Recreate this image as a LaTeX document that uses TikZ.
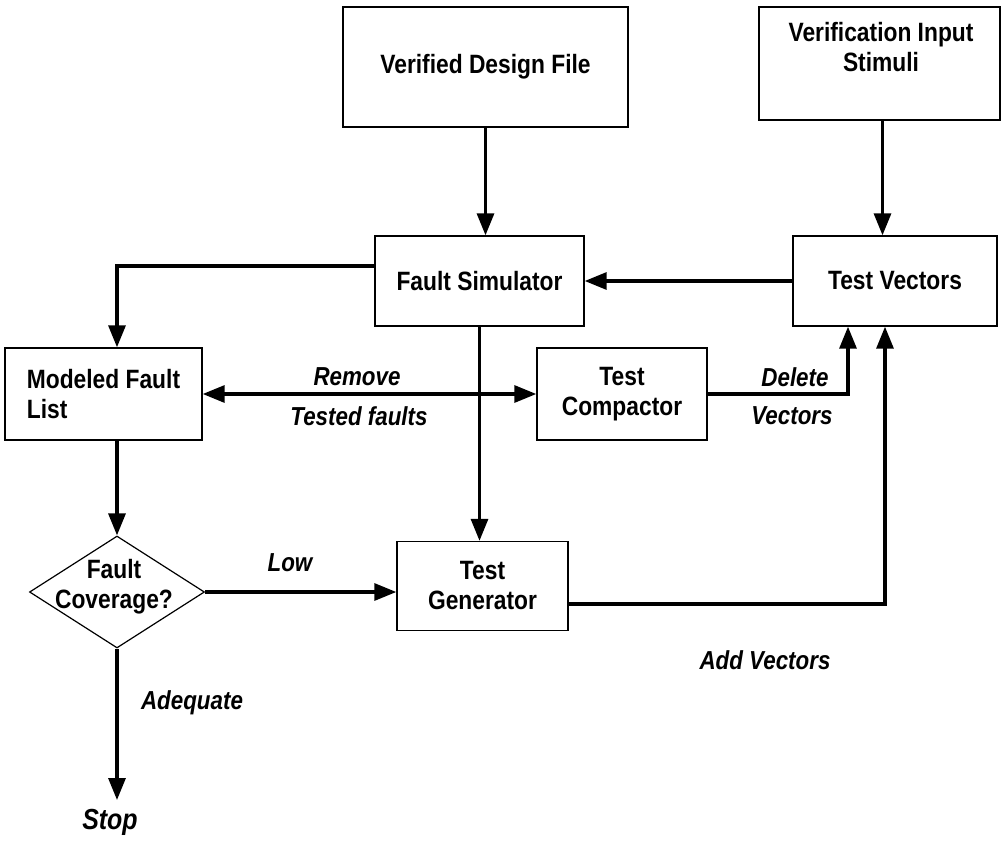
\documentclass[tikz,border=0pt]{standalone}
\usepackage{fontspec}
\setmainfont{Liberation Sans}[FakeStretch=0.86]
\usetikzlibrary{arrows.meta,shapes.geometric}
\newcommand\boxfont{\bfseries\fontsize{26.5}{30}\selectfont}
\newcommand\tagfont{\bfseries\itshape\fontsize{26}{30}\selectfont}
\newcommand\stopfont{\bfseries\itshape\fontsize{29}{32}\selectfont}
\begin{document}
\begin{tikzpicture}[x=1pt,y=-1pt,
  box/.style={draw,line width=1.4pt,inner sep=0pt,align=center,font=\boxfont},
  txt/.style={inner sep=0pt,align=center,font=\boxfont},
  tag/.style={inner sep=0pt,font=\tagfont},
  arr/.style={line width=3.2pt,-{Triangle[width=17pt,length=22pt]}},
  dbl/.style={line width=3.2pt,{Triangle[width=17pt,length=22pt]}-{Triangle[width=17pt,length=22pt]}}]
\useasboundingbox (0,0) rectangle (1007,861);

% blocks
\node[box,minimum width=285pt,minimum height=120pt] (vdf) at (485.5,67) {Verified Design File};
\node[box,minimum width=241pt,minimum height=113pt] (vis) at (879.5,63.5) {};
\node[txt] (vistxt) at (881,47) {Verification Input\\Stimuli};
\node[box,minimum width=209pt,minimum height=90pt] (fs) at (479.5,281) {Fault Simulator};
\node[box,minimum width=204pt,minimum height=90pt] (tv) at (895,281) {Test Vectors};
\node[box,minimum width=197pt,minimum height=92pt,align=left] (mfl) at (103.5,394) {Modeled Fault\\List};
\node[box,minimum width=170pt,minimum height=92pt] (tc) at (622,394) {Test\\Compactor};
\node[box,minimum width=171pt,minimum height=89pt] (tg) at (482.5,586) {Test\\Generator};
\node[draw,line width=1.2pt,diamond,inner sep=0pt,minimum width=175pt,minimum height=112pt,aspect=1.56] (cov) at (117,592) {};
\node[txt] (covtxt) at (114,587) {Fault\\Coverage?};
\coordinate (stopend) at (117,800);
\node[inner sep=0pt,font=\stopfont] (stop) at (110,822) {Stop};

% connectors
\draw[arr] (vdf.south) -- (vdf.south |- fs.north);
\draw[arr] ([xshift=3pt]vis.south) -- ([xshift=3pt]vis.south |- tv.north);
\draw[arr] (tv.west) -- (fs.east);
\draw[arr] ([yshift=15pt]fs.west) -| (cov.north |- mfl.north);
\draw[dbl] (mfl.east) -- (tc.west);
\draw[arr] (tc.east) -| ([xshift=-47pt]tv.south);
\draw[arr] (fs.south) -- (fs.south |- tg.north);
\draw[arr] (cov.north |- mfl.south) -- (cov.north);
\draw[arr] (cov.east) -- (cov.east -| tg.west);
\draw[arr] ([yshift=-18pt]tg.east) -| ([xshift=-10pt]tv.south);
\draw[arr] (cov.south) -- (stopend);

% connector labels
\node[tag] (remove) at (357,377) {Remove};
\node[tag] (tested) at (359,416) {Tested faults};
\node[tag] (delete) at (795,377) {Delete};
\node[tag] (vectors) at (792,416) {Vectors};
\node[tag] (low) at (290,563) {Low};
\node[tag] (addv) at (765,660) {Add Vectors};
\node[tag] (adequate) at (192,703) {Adequate};
\end{tikzpicture}
\end{document}
